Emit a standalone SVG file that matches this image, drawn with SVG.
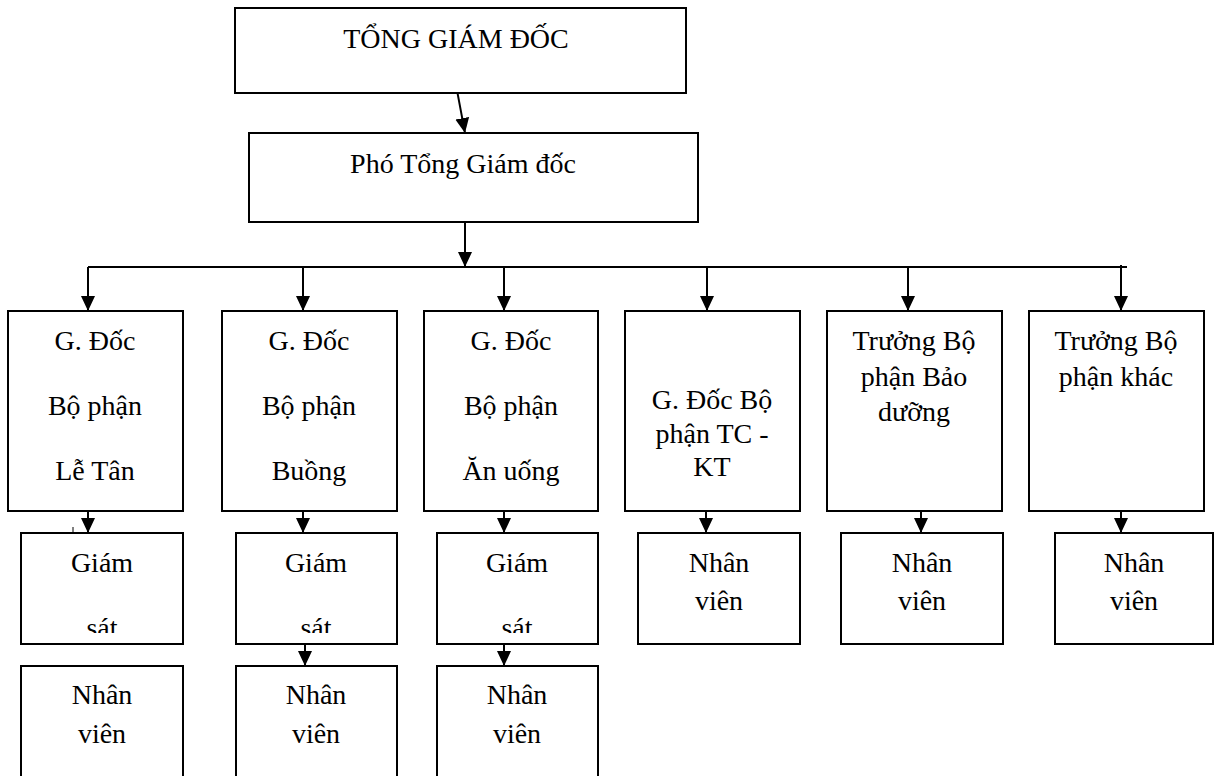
<svg xmlns="http://www.w3.org/2000/svg" width="1218" height="776" viewBox="0 0 1218 776">
<style>
.box{fill:#fff;stroke:#000;stroke-width:2}
.t{font-family:"Liberation Serif","Times New Roman",serif;font-size:28px;fill:#000;text-anchor:middle}
.c{stroke:#000;stroke-width:2;fill:none}
.ca{stroke:#000;stroke-width:2;fill:none;marker-end:url(#ah)}
</style>
<defs>
<marker id="ah" markerUnits="userSpaceOnUse" markerWidth="15" markerHeight="15" refX="15" refY="7" orient="auto" viewBox="0 0 15 14">
<path d="M0,0 L15,7 L0,14 z" fill="#000"/>
</marker>
<clipPath id="cl1"><rect x="21" y="533" width="162" height="100"/></clipPath>
<clipPath id="cl2"><rect x="236" y="533" width="161" height="100"/></clipPath>
<clipPath id="cl3"><rect x="437" y="533" width="161" height="100"/></clipPath>
</defs>
<rect width="1218" height="776" fill="#fff"/>

<g id="tgd"><rect class="box" x="235" y="8" width="451" height="85"/><text class="t" x="456" y="48">TỔNG GIÁM ĐỐC</text></g>
<g id="ptgd"><rect class="box" x="249" y="133" width="449" height="89"/><text class="t" x="463" y="173">Phó Tổng Giám đốc</text></g>

<g id="gd-letan"><rect class="box" x="8" y="311" width="175" height="200"/>
<text class="t" x="95" y="350">G. Đốc</text><text class="t" x="95" y="415">Bộ phận</text><text class="t" x="95" y="480">Lễ Tân</text></g>
<g id="gd-buong"><rect class="box" x="222" y="311" width="175" height="200"/>
<text class="t" x="309" y="350">G. Đốc</text><text class="t" x="309" y="415">Bộ phận</text><text class="t" x="309" y="480">Buồng</text></g>
<g id="gd-anuong"><rect class="box" x="424" y="311" width="174" height="200"/>
<text class="t" x="511" y="350">G. Đốc</text><text class="t" x="511" y="415">Bộ phận</text><text class="t" x="511" y="480">Ăn uống</text></g>
<g id="gd-tckt"><rect class="box" x="625" y="311" width="175" height="200"/>
<text class="t" x="712" y="409">G. Đốc Bộ</text><text class="t" x="712" y="443">phận TC -</text><text class="t" x="712" y="476">KT</text></g>
<g id="tb-baoduong"><rect class="box" x="827" y="311" width="175" height="200"/>
<text class="t" x="914" y="350">Trưởng Bộ</text><text class="t" x="914" y="386">phận Bảo</text><text class="t" x="914" y="421">dưỡng</text></g>
<g id="tb-khac"><rect class="box" x="1029" y="311" width="175" height="200"/>
<text class="t" x="1116" y="350">Trưởng Bộ</text><text class="t" x="1116" y="386">phận khác</text></g>

<g id="gs1"><rect class="box" x="21" y="533" width="162" height="111"/>
<g clip-path="url(#cl1)"><text class="t" x="102" y="572">Giám</text><text class="t" x="102" y="637">sát</text></g></g>
<g id="gs2"><rect class="box" x="236" y="533" width="161" height="111"/>
<g clip-path="url(#cl2)"><text class="t" x="316" y="572">Giám</text><text class="t" x="316" y="637">sát</text></g></g>
<g id="gs3"><rect class="box" x="437" y="533" width="161" height="111"/>
<g clip-path="url(#cl3)"><text class="t" x="517" y="572">Giám</text><text class="t" x="517" y="637">sát</text></g></g>
<g id="nv4"><rect class="box" x="638" y="533" width="162" height="111"/>
<text class="t" x="719" y="572">Nhân</text><text class="t" x="719" y="610">viên</text></g>
<g id="nv5"><rect class="box" x="841" y="533" width="162" height="111"/>
<text class="t" x="922" y="572">Nhân</text><text class="t" x="922" y="610">viên</text></g>
<g id="nv6"><rect class="box" x="1055" y="533" width="158" height="111"/>
<text class="t" x="1134" y="572">Nhân</text><text class="t" x="1134" y="610">viên</text></g>

<g id="nv1"><rect class="box" x="21" y="666" width="162" height="130"/>
<text class="t" x="102" y="704">Nhân</text><text class="t" x="102" y="743">viên</text></g>
<g id="nv2"><rect class="box" x="236" y="666" width="161" height="130"/>
<text class="t" x="316" y="704">Nhân</text><text class="t" x="316" y="743">viên</text></g>
<g id="nv3"><rect class="box" x="437" y="666" width="161" height="130"/>
<text class="t" x="517" y="704">Nhân</text><text class="t" x="517" y="743">viên</text></g>

<g id="connectors">
<line class="ca" x1="457.5" y1="93" x2="465" y2="133"/>
<line class="ca" x1="465" y1="222" x2="465" y2="267"/>
<line class="c" x1="88" y1="267" x2="1127" y2="267"/>
<line class="ca" x1="88" y1="267" x2="88" y2="311"/>
<line class="ca" x1="303" y1="267" x2="303" y2="311"/>
<line class="ca" x1="504" y1="267" x2="504" y2="311"/>
<line class="ca" x1="707" y1="267" x2="707" y2="311"/>
<line class="ca" x1="908" y1="267" x2="908" y2="311"/>
<line class="ca" x1="1121" y1="265" x2="1121" y2="311"/>
<line class="ca" x1="88" y1="511" x2="88" y2="533"/>
<line class="ca" x1="303" y1="511" x2="303" y2="533"/>
<line class="ca" x1="504" y1="511" x2="504" y2="533"/>
<line class="ca" x1="706" y1="511" x2="706" y2="533"/>
<line class="ca" x1="921" y1="511" x2="921" y2="533"/>
<line class="ca" x1="1121" y1="511" x2="1121" y2="533"/>
<line class="ca" x1="305" y1="644" x2="305" y2="666"/>
<line class="ca" x1="504" y1="644" x2="504" y2="666"/>
<line stroke="#000" stroke-width="1" x1="73" y1="527" x2="73" y2="533"/>
</g>
</svg>
